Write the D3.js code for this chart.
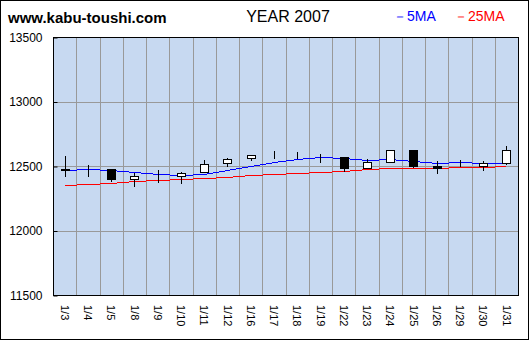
<!DOCTYPE html>
<html>
<head>
<meta charset="utf-8">
<script src="https://cdn.jsdelivr.net/npm/d3@7"></script>
<style>
  body { margin: 0; background: #fff; }
  text { font-family: "Liberation Sans", Arial, sans-serif; }
</style>
</head>
<body>
<div id="chart"></div>
<script>
var svgWidth = 530;
var svgHeight = 341;

// daily candles, Jan 2007
var dates = ["1/3", "1/4", "1/5", "1/8", "1/9", "1/10", "1/11", "1/12", "1/16", "1/17",
    "1/18", "1/19", "1/22", "1/23", "1/24", "1/25", "1/26", "1/29", "1/30", "1/31"];
var openVals = [12475, 12482, 12474, 12397, 12425, 12422, 12451, 12521, 12560, 12580,
    12580, 12577, 12570, 12482, 12533, 12624, 12500, 12529, 12498, 12526];
var highVals = [12577, 12508, 12474, 12443, 12469, 12456, 12547, 12560, 12583, 12614,
    12606, 12593, 12570, 12552, 12622, 12624, 12536, 12547, 12539, 12655];
var lowVals = [12412, 12412, 12376, 12340, 12370, 12358, 12451, 12495, 12541, 12554,
    12554, 12526, 12456, 12482, 12533, 12487, 12436, 12495, 12465, 12510];
var closeVals = [12466, 12482, 12402, 12422, 12425, 12446, 12515, 12552, 12583, 12580,
    12580, 12577, 12482, 12529, 12622, 12502, 12487, 12529, 12521, 12622];
var ma5 = [12469, 12479, 12469, 12451, 12440, 12433, 12438, 12468, 12503, 12531,
    12554, 12567, 12560, 12547, 12552, 12539, 12523, 12529, 12521, 12521];
var ma25 = [12353, 12358, 12370, 12381, 12389, 12397, 12405, 12415, 12428, 12438,
    12448, 12456, 12463, 12477, 12482, 12482, 12485, 12490, 12490, 12500];
var yTicks = [11500, 12000, 12500, 13000, 13500];

var plot = { left: 53, right: 518, top: 37, bottom: 295 };

var svg = d3.select("#chart")
    .append("svg")
    .attr("width", svgWidth)
    .attr("height", svgHeight);

// outer frame
svg.append("rect")
    .attr("x", 0.5).attr("y", 0.5)
    .attr("width", 528).attr("height", 339)
    .attr("fill", "#fff")
    .attr("stroke", "#000");

var xScale = d3.scaleBand()
    .domain(dates)
    .range([plot.left, plot.right]);

var yScale = d3.scaleLinear()
    .domain([11500, 13500])
    .range([plot.bottom, plot.top]);

svg.append("rect")
    .attr("x", plot.left).attr("y", plot.top)
    .attr("width", plot.right - plot.left)
    .attr("height", plot.bottom - plot.top)
    .attr("fill", "#c7d9f1");

// grid
svg.append("g").selectAll("line")
    .data(dates.slice(1))
    .enter()
    .append("line")
    .attr("x1", d => Math.round(xScale(d)) + 0.5)
    .attr("x2", d => Math.round(xScale(d)) + 0.5)
    .attr("y1", plot.top)
    .attr("y2", plot.bottom)
    .attr("stroke", "#999");

svg.append("g").selectAll("line")
    .data(yTicks.slice(1, -1))
    .enter()
    .append("line")
    .attr("x1", plot.left)
    .attr("x2", plot.right)
    .attr("y1", d => Math.round(yScale(d)) + 0.5)
    .attr("y2", d => Math.round(yScale(d)) + 0.5)
    .attr("stroke", "#999");

// moving averages
var cx = d => Math.round(xScale(d) + xScale.bandwidth() / 2) + 0.5;

svg.append("path")
    .datum(ma25)
    .attr("fill", "none")
    .attr("stroke", "#ff0000")
    .attr("shape-rendering", "crispEdges")
    .attr("d", d3.line().x((d, i) => cx(dates[i])).y(d => Math.round(yScale(d)) + 0.5));

svg.append("path")
    .datum(ma5)
    .attr("fill", "none")
    .attr("stroke", "#0000ff")
    .attr("shape-rendering", "crispEdges")
    .attr("d", d3.line().x((d, i) => cx(dates[i])).y(d => Math.round(yScale(d)) + 0.5));

// candles
var candles = svg.append("g").selectAll("g")
    .data(dates)
    .enter()
    .append("g");

candles.append("line")
    .attr("x1", d => cx(d))
    .attr("x2", d => cx(d))
    .attr("y1", (d, i) => Math.round(yScale(highVals[i])))
    .attr("y2", (d, i) => Math.round(yScale(lowVals[i])))
    .attr("stroke", "#000");

candles.append("rect")
    .attr("x", d => cx(d) - 4)
    .attr("y", (d, i) => Math.round(yScale(Math.max(openVals[i], closeVals[i]))) + 0.5)
    .attr("width", 8)
    .attr("height", (d, i) => Math.round(yScale(Math.min(openVals[i], closeVals[i]))) - Math.round(yScale(Math.max(openVals[i], closeVals[i]))))
    .attr("fill", (d, i) => closeVals[i] < openVals[i] ? "#000" : "#fff")
    .attr("stroke", "#000");

// plot border
svg.append("rect")
    .attr("x", plot.left + 0.5).attr("y", plot.top + 0.5)
    .attr("width", plot.right - plot.left)
    .attr("height", plot.bottom - plot.top)
    .attr("fill", "none")
    .attr("stroke", "#000");

// axes
var leftAxis = d3.axisLeft(yScale)
    .tickValues(yTicks)
    .tickSize(-4)
    .tickPadding(11)
    .tickFormat(d3.format("d"));

var yAxisG = svg.append("g")
    .attr("transform", `translate(${plot.left + 0.5}, 0.5)`)
    .call(leftAxis);
yAxisG.select(".domain").remove();
yAxisG.selectAll("text")
    .attr("font-size", "12px")
    .attr("font-family", "'Liberation Sans', Arial, sans-serif")
    .attr("fill", "#000");
yAxisG.selectAll(".tick line").attr("stroke", "#000");

var bottomAxis = d3.axisBottom(xScale).tickSize(0);
var xAxisG = svg.append("g")
    .attr("transform", `translate(0, ${plot.bottom})`)
    .call(bottomAxis);
xAxisG.select(".domain").remove();
xAxisG.selectAll("text")
    .attr("transform", "rotate(90)")
    .attr("x", 10)
    .attr("y", 0)
    .attr("dy", "0.35em")
    .style("text-anchor", "start")
    .attr("font-size", "11px")
    .attr("font-family", "'Liberation Sans', Arial, sans-serif")
    .attr("fill", "#000");

// header
svg.append("text")
    .attr("x", 8).attr("y", 23)
    .attr("font-size", "15px")
    .attr("font-weight", "bold")
    .text("www.kabu-toushi.com");

svg.append("text")
    .attr("x", 288).attr("y", 22)
    .attr("text-anchor", "middle")
    .attr("font-size", "16px")
    .text("YEAR 2007");

svg.append("text")
    .attr("x", 393).attr("y", 21)
    .attr("font-size", "14px")
    .attr("fill", "#0000ff")
    .text("－5MA");

svg.append("text")
    .attr("x", 454).attr("y", 21)
    .attr("font-size", "14px")
    .attr("fill", "#ff0000")
    .text("－25MA");
</script>
</body>
</html>
